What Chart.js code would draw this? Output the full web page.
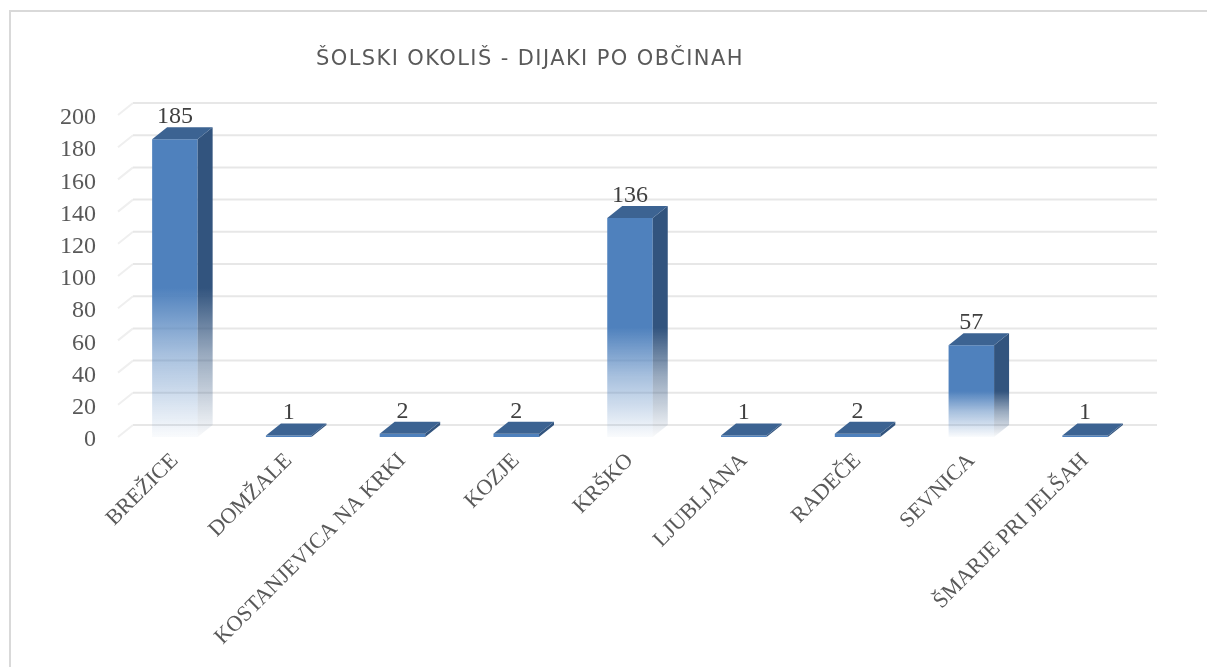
<!DOCTYPE html>
<html>
<head>
<meta charset="utf-8">
<script src="https://cdn.jsdelivr.net/npm/chart.js@4.4.1/dist/chart.umd.min.js"></script>
<style>
  html, body { margin: 0; padding: 0; background: #ffffff; }
  #wrap { position: relative; width: 1207px; height: 667px; overflow: hidden; }
  #frame { position: absolute; left: 9px; top: 10px; width: 1300px; height: 700px;
           border-left: 2px solid #d9d9d9; border-top: 2px solid #d9d9d9; box-sizing: border-box; }
  #title { position: absolute; left: 316px; top: 44px; line-height: 28px; white-space: nowrap;
           font-family: "DejaVu Sans", sans-serif; font-size: 21px; letter-spacing: 1.4px; color: #595959; }
  canvas { position: absolute; left: 0; top: 0; }
</style>
</head>
<body>
<div id="wrap">
  <canvas id="c" width="1207" height="667"></canvas>
  <div id="frame"></div>
  <div id="title">ŠOLSKI OKOLIŠ - DIJAKI PO OBČINAH</div>
</div>
<script>
const categories = ['BREŽICE', 'DOMŽALE', 'KOSTANJEVICA NA KRKI', 'KOZJE', 'KRŠKO', 'LJUBLJANA', 'RADEČE', 'SEVNICA', 'ŠMARJE PRI JELŠAH'];
const values = [185, 1, 2, 2, 136, 1, 2, 57, 1];
const yMin = 0;
const yMax = 200;
const yStep = 20;

const DX = 15, DY = 12;
const FRONT = '79,129,189';
const SIDE = '50,84,126';
const TOP = '#3c6392';
const TEXT = '#595959';
const SERIF = '"Liberation Serif", "DejaVu Serif", serif';

function fadeGradient(ctx, top, base, rgb) {
  const g = ctx.createLinearGradient(0, top, 0, base);
  g.addColorStop(0, 'rgba(' + rgb + ',1)');
  g.addColorStop(0.5, 'rgba(' + rgb + ',1)');
  g.addColorStop(0.72, 'rgba(' + rgb + ',0.5)');
  g.addColorStop(1, 'rgba(' + rgb + ',0.03)');
  return g;
}

const gridPlugin = {
  id: 'grid3d',
  beforeDatasetsDraw(chart) {
    const ctx = chart.ctx;
    const ys = chart.scales.y;
    const area = chart.chartArea;
    ctx.save();
    ctx.lineWidth = 2;
    ys.ticks.forEach(t => {
      const py = ys.getPixelForValue(t.value);
      ctx.strokeStyle = '#efefef';
      ctx.beginPath();
      ctx.moveTo(area.left, py);
      ctx.lineTo(area.left + DX, py - DY);
      ctx.stroke();
      ctx.strokeStyle = '#e7e7e7';
      ctx.beginPath();
      ctx.moveTo(area.left + DX, py - DY);
      ctx.lineTo(area.right + DX, py - DY);
      ctx.stroke();
    });
    ctx.restore();
  }
};

const barPlugin = {
  id: 'bar3d',
  afterDatasetsDraw(chart) {
    const ctx = chart.ctx;
    const meta = chart.getDatasetMeta(0);
    ctx.save();
    meta.data.forEach((bar, i) => {
      const p = bar.getProps(['x', 'y', 'base', 'width'], true);
      const l = p.x - p.width / 2, r = p.x + p.width / 2;
      ctx.fillStyle = (p.base - p.y > 6) ? fadeGradient(ctx, p.y, p.base, SIDE) : 'rgb(' + SIDE + ')';
      ctx.beginPath();
      ctx.moveTo(r, p.y);
      ctx.lineTo(r + DX, p.y - DY);
      ctx.lineTo(r + DX, p.base - DY);
      ctx.lineTo(r, p.base);
      ctx.closePath();
      ctx.fill();
      ctx.fillStyle = TOP;
      ctx.beginPath();
      ctx.moveTo(l, p.y);
      ctx.lineTo(l + DX, p.y - DY);
      ctx.lineTo(r + DX, p.y - DY);
      ctx.lineTo(r, p.y);
      ctx.closePath();
      ctx.fill();
      ctx.fillStyle = '#404040';
      ctx.font = '24px ' + SERIF;
      ctx.textAlign = 'center';
      ctx.textBaseline = 'alphabetic';
      ctx.fillText(String(values[i]), p.x, p.y - DY - 4);
    });
    ctx.restore();
  }
};

new Chart(document.getElementById('c'), {
  type: 'bar',
  data: {
    labels: categories,
    datasets: [{
      data: values,
      barPercentage: 0.4,
      categoryPercentage: 1,
      borderWidth: 0,
      backgroundColor(c) {
        const chart = c.chart;
        if (!chart.chartArea || !chart.scales.y || c.raw === undefined) return 'rgb(' + FRONT + ')';
        const ys = chart.scales.y;
        const top = ys.getPixelForValue(c.raw);
        const base = ys.getPixelForValue(0);
        if (!isFinite(top) || !isFinite(base) || base - top < 6) return 'rgb(' + FRONT + ')';
        return fadeGradient(chart.ctx, top, base, FRONT);
      }
    }]
  },
  options: {
    responsive: false,
    animation: false,
    devicePixelRatio: 1,
    layout: { padding: { left: 10, right: 65, top: 115, bottom: 0 } },
    plugins: { legend: { display: false }, tooltip: { enabled: false }, title: { display: false } },
    scales: {
      x: {
        grid: { display: false, drawTicks: false },
        border: { display: false },
        ticks: { minRotation: 45, maxRotation: 45, padding: 11, color: TEXT, font: { family: SERIF, size: 22 } },
        afterFit(s) { s.height = 230; }
      },
      y: {
        min: yMin, max: yMax,
        grid: { display: false, drawTicks: false },
        border: { display: false },
        ticks: { stepSize: yStep, padding: 22, labelOffset: 3, color: TEXT, font: { family: SERIF, size: 24 } },
        afterFit(s) { s.width = 108; }
      }
    }
  },
  plugins: [gridPlugin, barPlugin]
});
</script>
</body>
</html>
